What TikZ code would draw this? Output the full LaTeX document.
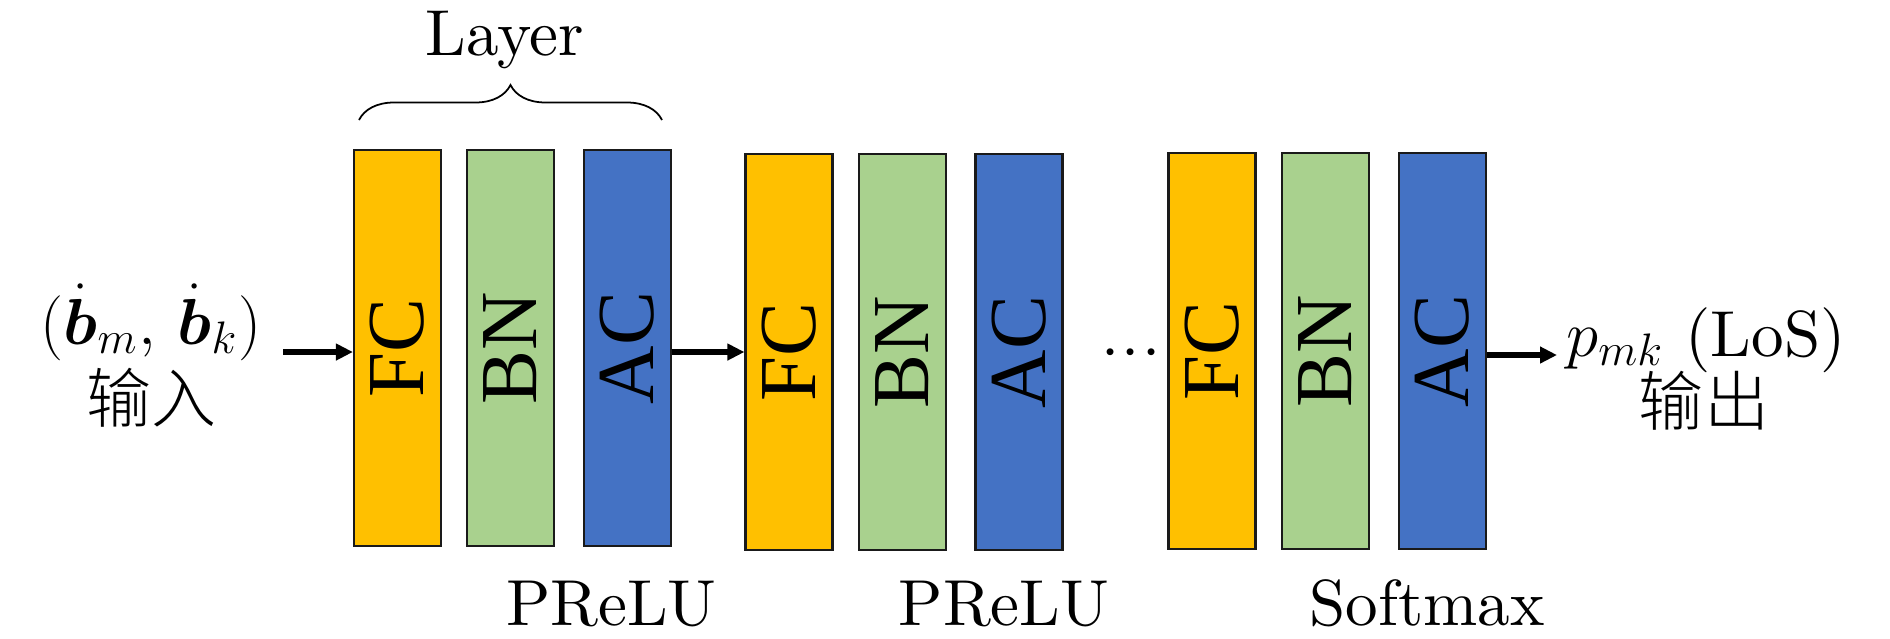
\RequirePackage{fix-cm}
\documentclass[tikz,border=0pt]{standalone}
\usepackage{fontspec}
\usepackage{amsmath,bm}
\usetikzlibrary{arrows.meta,decorations.pathreplacing}
\setmainfont{lmroman10-regular}[Extension=.otf]
\newfontfamily\tnr{Liberation Serif}
\newfontfamily\cjk{Noto Sans CJK SC}[UprightFont={* Light}]
\definecolor{fcY}{HTML}{FFC000}
\definecolor{bnG}{HTML}{A9D18E}
\definecolor{acB}{HTML}{4472C4}
\definecolor{edge}{HTML}{1A1A1A}
\begin{document}
\begin{tikzpicture}[x=0.01cm,y=-0.01cm,
  layerbox/.style={draw=edge,line width=0.6pt,minimum width=0.87cm,minimum height=3.96cm,inner sep=0pt,
    font=\tnr\fontsize{23}{26}\selectfont},
  fcbox/.style={layerbox,fill=fcY},
  bnbox/.style={layerbox,fill=bnG},
  acbox/.style={layerbox,fill=acB},
  lbl/.style={font=\fontsize{18.5}{22}\selectfont,inner sep=0pt,anchor=base},
  zh/.style={font=\cjk\fontsize{18.5}{22}\selectfont,inner sep=0pt,anchor=base},
  arr/.style={line width=1.5pt,-{Triangle[length=0.17cm,width=0.16cm]}}]
\useasboundingbox (0,0) rectangle (1890,638);

% group 1
\node[fcbox] (fc1) at (397.5,348) {\rotatebox{90}{FC}};
\node[bnbox] (bn1) at (510.5,348) {\rotatebox{90}{BN}};
\node[acbox] (ac1) at (627.5,348) {\rotatebox{90}{AC}};
% group 2
\node[fcbox] (fc2) at (789,352) {\rotatebox{90}{FC}};
\node[bnbox] (bn2) at (902.5,352) {\rotatebox{90}{BN}};
\node[acbox] (ac2) at (1019,352) {\rotatebox{90}{AC}};
% group 3
\node[fcbox] (fc3) at (1212,351) {\rotatebox{90}{FC}};
\node[bnbox] (bn3) at (1325.5,351) {\rotatebox{90}{BN}};
\node[acbox] (ac3) at (1442.5,351) {\rotatebox{90}{AC}};

% dots
\node[lbl] (dots) at (1131,368) {${\cdotp}\mkern0.8mu{\cdotp}\mkern0.8mu{\cdotp}$};

% brace and layer label
\coordinate (brL) at (359,120);
\coordinate (brR) at (662,120);
\draw[decorate,decoration={brace,amplitude=0.35cm},line width=0.5pt] (brL) -- (brR);
\node[lbl] (layer) at (505,55) {Layer};

% activation labels
\node[lbl] (act1) at (611.5,625) {PReLU};
\node[lbl] (act2) at (1004,625) {PReLU};
\node[lbl] (act3) at (1427,625) {Softmax};

% input
\node[lbl] (inp) at (151,344) {$(\dot{\bm{b}}_m,\, \dot{\bm{b}}_k)$};
\node[zh] (inpzh) at (151.5,422) {输入};
% output
\node[lbl] (outp) at (1706,356) {$p_{mk}$ (LoS)};
\node[zh] (outzh) at (1704,425) {输出};

% arrows
\coordinate (a1s) at (283,352);
\draw[arr] (a1s) -- (a1s -| fc1.west);
\draw[arr] (ac1.east |- fc2) -- (fc2.west);
\coordinate (a3e) at (1557,355);
\draw[arr] (ac3.east |- a3e) -- (a3e);
\end{tikzpicture}
\end{document}
